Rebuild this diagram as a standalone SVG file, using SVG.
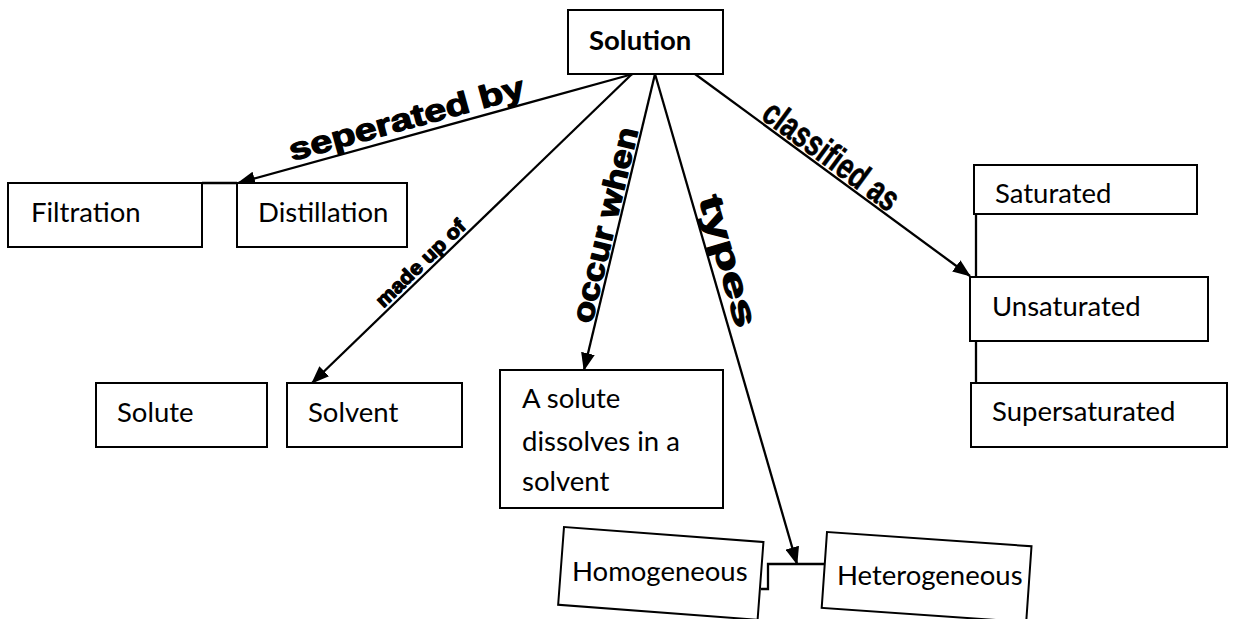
<svg xmlns="http://www.w3.org/2000/svg" width="1241" height="619" viewBox="0 0 1241 619">
<style>
.box{fill:#fff;stroke:#000;stroke-width:2}
.t{font-family:Lato,"Open Sans","Liberation Sans",sans-serif;font-size:27.5px;fill:#000}
.tb{font-family:Lato,"Open Sans","Liberation Sans",sans-serif;font-size:27.5px;font-weight:bold;fill:#000}
.c{fill:none;stroke:#000;stroke-width:2.3}
.lbl{font-family:"Liberation Sans",Arial,sans-serif;font-weight:bold;fill:#000;stroke:#000;stroke-width:1.2;stroke-linejoin:round}
</style>
<defs>
<marker id="ah" markerWidth="18" markerHeight="14" refX="17" refY="7" orient="auto" markerUnits="userSpaceOnUse">
<path d="M0,0 L18,7 L0,14 z" fill="#000"/>
</marker>
</defs>
<rect width="1241" height="619" fill="#fff"/>

<g id="connectors">
<line class="c" x1="633" y1="74" x2="238" y2="183" marker-end="url(#ah)"/>
<line class="c" x1="632" y1="74" x2="312" y2="383" marker-end="url(#ah)"/>
<line class="c" x1="655" y1="74" x2="584" y2="370" marker-end="url(#ah)"/>
<line class="c" x1="655" y1="74" x2="797" y2="564" marker-end="url(#ah)"/>
<line class="c" x1="695" y1="74" x2="970" y2="276" marker-end="url(#ah)"/>
<line class="c" x1="202" y1="183" x2="237" y2="183"/>
<line class="c" x1="976" y1="214" x2="976" y2="277"/>
<line class="c" x1="976" y1="341" x2="976" y2="383"/>
<polyline class="c" points="761,589 768,589 768,564 824,564"/>
<text class="lbl" font-size="31" textLength="243" lengthAdjust="spacingAndGlyphs" transform="translate(292,161) rotate(-15.4)">seperated by</text>
<text class="lbl" font-size="20" text-anchor="middle" textLength="116" lengthAdjust="spacingAndGlyphs" transform="translate(428,271) rotate(-44)" y="-4">made up of</text>
<text class="lbl" font-size="31" text-anchor="middle" textLength="200" lengthAdjust="spacingAndGlyphs" transform="translate(618,228) rotate(-76.5)" y="-3">occur when</text>
<text class="lbl" font-size="33" text-anchor="middle" textLength="136" lengthAdjust="spacingAndGlyphs" transform="translate(711,266) rotate(73.8)" y="-7">types</text>
<text class="lbl" font-size="36" text-anchor="middle" textLength="160" lengthAdjust="spacingAndGlyphs" transform="translate(823,167) rotate(36.3)" y="-2" style="stroke-width:0.6">classified as</text>
</g>

<g id="solution">
<rect class="box" x="568" y="10" width="155" height="64"/>
<text class="tb" x="589" y="50">Solution</text>
</g>
<g id="filtration">
<rect class="box" x="8" y="183" width="194" height="64"/>
<text class="t" x="31" y="222">Filtration</text>
</g>
<g id="distillation">
<rect class="box" x="237" y="183" width="170" height="64"/>
<text class="t" x="258" y="222">Distillation</text>
</g>
<g id="solute">
<rect class="box" x="96" y="383" width="171" height="64"/>
<text class="t" x="117" y="422">Solute</text>
</g>
<g id="solvent">
<rect class="box" x="287" y="383" width="175" height="64"/>
<text class="t" x="308" y="422">Solvent</text>
</g>
<g id="dissolves">
<rect class="box" x="500" y="370" width="223" height="138"/>
<text class="t" x="522" y="408">A solute</text>
<text class="t" x="522" y="451">dissolves in a</text>
<text class="t" x="522" y="491">solvent</text>
</g>
<g id="saturated">
<rect class="box" x="974" y="165" width="223" height="49"/>
<text class="t" x="995" y="203">Saturated</text>
</g>
<g id="unsaturated">
<rect class="box" x="970" y="277" width="238" height="64"/>
<text class="t" x="992" y="316">Unsaturated</text>
</g>
<g id="supersaturated">
<rect class="box" x="971" y="383" width="256" height="64"/>
<text class="t" x="992" y="421">Supersaturated</text>
</g>
<g id="homogeneous">
<rect class="box" x="0" y="0" width="200" height="78" transform="translate(564,527) rotate(4.3)"/>
<text class="t" x="572" y="581">Homogeneous</text>
</g>
<g id="heterogeneous">
<rect class="box" x="0" y="0" width="205" height="76" transform="translate(827,532) rotate(4)"/>
<text class="t" x="837" y="585">Heterogeneous</text>
</g>
</svg>
